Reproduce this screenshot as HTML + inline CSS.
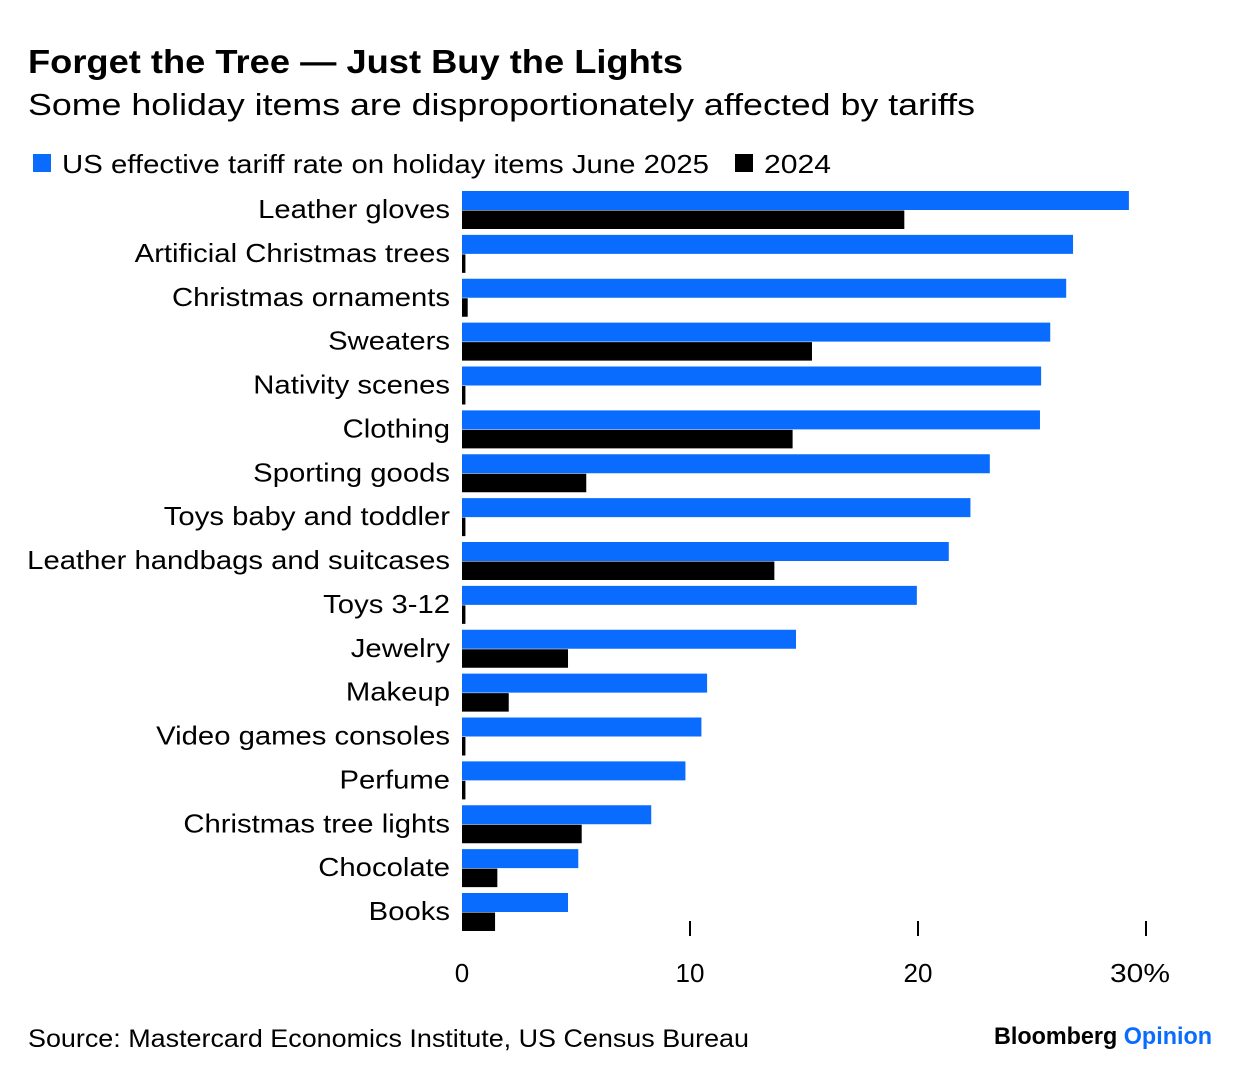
<!DOCTYPE html>
<html><head><meta charset="utf-8"><style>
body{margin:0;background:#fff;font-family:"Liberation Sans",sans-serif;}
#wrap{position:relative;width:1240px;height:1080px;overflow:hidden;}
</style></head><body>
<div id="wrap">
<svg id="chart" width="1240" height="1080" style="font-family:'Liberation Sans',sans-serif">
<text x="28" y="73" font-size="33" font-weight="bold" fill="#000" textLength="655" lengthAdjust="spacingAndGlyphs">Forget the Tree — Just Buy the Lights</text>
<text x="28" y="115" font-size="31" fill="#000" textLength="947" lengthAdjust="spacingAndGlyphs">Some holiday items are disproportionately affected by tariffs</text>
<g>
<rect x="33" y="154" width="18" height="18" fill="#0a6cff"/>
<text x="62" y="173" font-size="26" textLength="647" lengthAdjust="spacingAndGlyphs">US effective tariff rate on holiday items June 2025</text>
<rect x="735" y="154" width="18" height="18" fill="#000"/>
<text x="764" y="173" font-size="26" textLength="67" lengthAdjust="spacingAndGlyphs">2024</text>
</g>
<g id="bars"></g>
<g id="axis"></g>
<text x="28" y="1047" font-size="25" textLength="721" lengthAdjust="spacingAndGlyphs">Source: Mastercard Economics Institute, US Census Bureau</text>
<text x="994" y="1044" font-size="24" font-weight="bold" textLength="218" lengthAdjust="spacingAndGlyphs"><tspan fill="#000">Bloomberg </tspan><tspan fill="#0a6cff">Opinion</tspan></text>
</svg>
</div>
<script>
const categories=["Leather gloves","Artificial Christmas trees","Christmas ornaments","Sweaters","Nativity scenes","Clothing","Sporting goods","Toys baby and toddler","Leather handbags and suitcases","Toys 3-12","Jewelry","Makeup","Video games consoles","Perfume","Christmas tree lights","Chocolate","Books"];
const rate2025=[29.25,26.8,26.5,25.8,25.4,25.35,23.15,22.3,21.35,19.95,14.65,10.75,10.5,9.8,8.3,5.1,4.65];
const rate2024=[19.4,0.15,0.25,15.35,0.15,14.5,5.45,0.15,13.7,0.15,4.65,2.05,0.15,0.15,5.25,1.55,1.45];
const tickValues=[0,10,20,30];
const tickLabels=["0","10","20","30%"];
const NS="http://www.w3.org/2000/svg";
const x0=462,pxPer=22.8;
function xScale(v){return x0+v*pxPer;}
function yRow(i){return 191+i*43.875;}
const bars=document.getElementById('bars');
function mk(tag,attrs){const e=document.createElementNS(NS,tag);for(const k in attrs)e.setAttribute(k,attrs[k]);return e;}
categories.forEach((c,i)=>{
  const y=yRow(i);
  const b=mk('rect',{x:x0,y:y,width:xScale(rate2025[i])-x0,height:19,fill:'#0a6cff'});
  
  
  bars.appendChild(b);
  const k=mk('rect',{x:x0,y:y+19.5,width:Math.max(xScale(rate2024[i])-x0,3),height:18.5,fill:'#000'});
  
  
  bars.appendChild(k);
  const t=mk('text',{x:450,y:y+27,'font-size':26,'text-anchor':'end',fill:'#000'});
  t.textContent=c;
  
  
  bars.appendChild(t);
  const w=t.getComputedTextLength();
  t.setAttribute('textLength',(w*1.125).toFixed(1));
  t.setAttribute('lengthAdjust','spacingAndGlyphs');
});
const ax=document.getElementById('axis');
tickValues.forEach((v,i)=>{
  if(v>0){
    const l=mk('line',{x1:xScale(v),x2:xScale(v),y1:921,y2:936,stroke:'#000','stroke-width':2});
    
    
    ax.appendChild(l);
  }
  const t=mk('text',{x:xScale(v),y:982,'font-size':26,'text-anchor':i===3?'start':'middle'});
  if(i===3){t.setAttribute('x',xScale(v)-36);t.setAttribute('textLength','60');t.setAttribute('lengthAdjust','spacingAndGlyphs');}
  t.textContent=tickLabels[i];
  
  
  ax.appendChild(t);
});
</script>
</body></html>
